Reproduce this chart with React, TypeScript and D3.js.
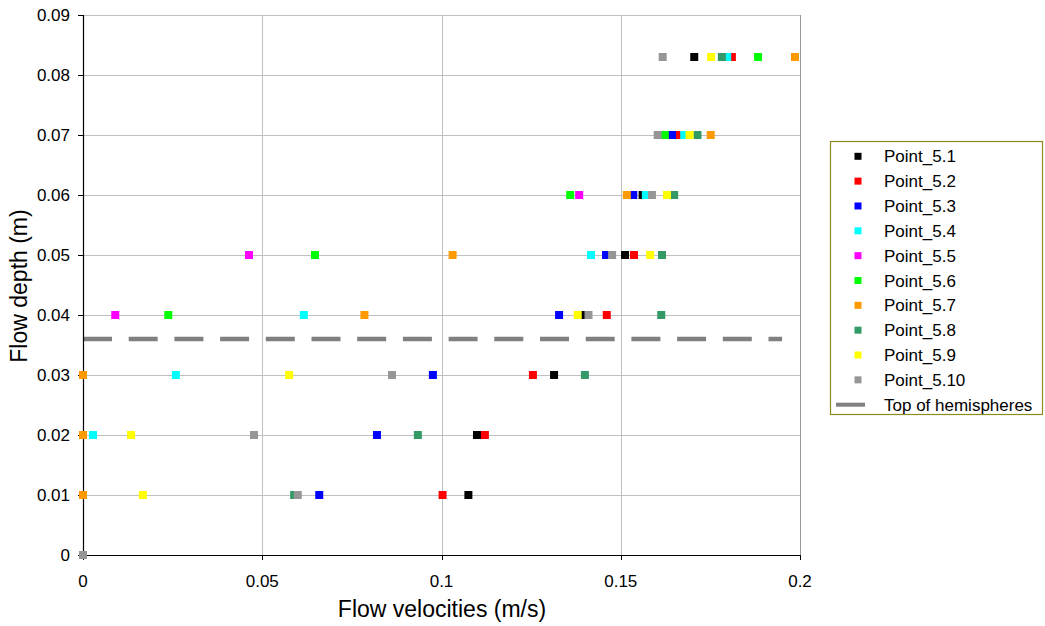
import React from "react";
import * as d3 from "d3";

const seriesNames = ["Point_5.1","Point_5.2","Point_5.3","Point_5.4","Point_5.5","Point_5.6","Point_5.7","Point_5.8","Point_5.9","Point_5.10"];
const seriesColors = ["#000000","#FF0000","#0000FF","#00FFFF","#FF00FF","#00FF00","#FF9900","#339966","#FFFF00","#969696"];

const p51v = [0, 0.1075, 0.1099, 0.1314, 0.1394, 0.1512, 0.1561, 0.1705];
const p51d = [0, 0.01, 0.02, 0.03, 0.04, 0.05, 0.06, 0.083];
const p52v = [0, 0.1003, 0.1121, 0.1255, 0.1461, 0.1537, 0.1663, 0.1810];
const p52d = [0, 0.01, 0.02, 0.03, 0.04, 0.05, 0.07, 0.083];
const p53v = [0, 0.0659, 0.0820, 0.0976, 0.1328, 0.1459, 0.1535, 0.1643];
const p53d = [0, 0.01, 0.02, 0.03, 0.04, 0.05, 0.06, 0.07];
const p54v = [0, 0.0028, 0.0259, 0.0616, 0.1417, 0.1570, 0.1677, 0.1797];
const p54d = [0, 0.02, 0.03, 0.04, 0.05, 0.06, 0.07, 0.083];
const p55v = [0, 0.0090, 0.0463, 0.1384];
const p55d = [0, 0.04, 0.05, 0.06];
const p56v = [0, 0.0238, 0.0647, 0.1359, 0.1623, 0.1883];
const p56d = [0, 0.04, 0.05, 0.06, 0.07, 0.083];
const p57v = [0, 0, 0, 0, 0.0785, 0.1031, 0.1517, 0.1751, 0.1986];
const p57d = [0, 0.01, 0.02, 0.03, 0.04, 0.05, 0.06, 0.07, 0.083];
const p58v = [0, 0.0589, 0.0934, 0.1400, 0.1613, 0.1615, 0.1649, 0.1714, 0.1782];
const p58d = [0, 0.01, 0.02, 0.03, 0.04, 0.05, 0.06, 0.07, 0.083];
const p59v = [0, 0.0167, 0.0134, 0.0575, 0.1380, 0.1582, 0.1629, 0.1692, 0.1752];
const p59d = [0, 0.01, 0.02, 0.03, 0.04, 0.05, 0.06, 0.07, 0.083];
const p510v = [0, 0.0599, 0.0477, 0.0862, 0.1410, 0.1476, 0.1587, 0.1603, 0.1617];
const p510d = [0, 0.01, 0.02, 0.03, 0.04, 0.05, 0.06, 0.07, 0.083];

const seriesVel = [p51v, p52v, p53v, p54v, p55v, p56v, p57v, p58v, p59v, p510v];
const seriesDepth = [p51d, p52d, p53d, p54d, p55d, p56d, p57d, p58d, p59d, p510d];

const hemisphereName = "Top of hemispheres";
const hemisphereVel = [0, 0.195];
const hemisphereDepth = [0.036, 0.036];

const xTicks = [0, 0.05, 0.1, 0.15, 0.2];
const yTicks = [0, 0.01, 0.02, 0.03, 0.04, 0.05, 0.06, 0.07, 0.08, 0.09];

export default function App() {
  const W = 1045, H = 626;
  const left = 83, right = 800, top = 15, bottom = 555;
  const x = d3.scaleLinear().domain([0, 0.2]).range([left, right]);
  const y = d3.scaleLinear().domain([0, 0.09]).range([bottom, top]);
  const font = "Arial, 'Liberation Sans', sans-serif";
  const ms = 8;
  const line = d3.line<number>().x((d, i) => x(hemisphereVel[i])).y((d, i) => y(hemisphereDepth[i]));

  const legX = 830, legY = 141, legW = 212, legH = 273;
  const rowY0 = 156.3, rowStep = 24.84;

  return (
    <svg width={W} height={H} style={{ position: "absolute", left: 0, top: 0, background: "#fff" }} fontFamily={font}>
      <rect x={0} y={0} width={W} height={H} fill="#fff" />
      {/* grid */}
      {yTicks.map((t) => (
        <line key={"gy" + t} x1={left} x2={right} y1={Math.round(y(t)) + 0.5} y2={Math.round(y(t)) + 0.5} stroke="#c0c0c0" strokeWidth={1} />
      ))}
      {xTicks.filter((t) => t > 0).map((t) => (
        <line key={"gx" + t} x1={Math.round(x(t)) + 0.5} x2={Math.round(x(t)) + 0.5} y1={top} y2={bottom} stroke={t === 0.2 ? "#999" : "#c0c0c0"} strokeWidth={1} />
      ))}
      {/* hemisphere line */}
      <path d={line(hemisphereVel) || ""} fill="none" stroke="#808080" strokeWidth={4.5} strokeDasharray="29,16.7" />
      {/* axes */}
      <line x1={left + 0.5} x2={left + 0.5} y1={top} y2={bottom} stroke="#000" strokeWidth={1.2} />
      <line x1={left} x2={right} y1={bottom + 0.5} y2={bottom + 0.5} stroke="#000" strokeWidth={1.2} />
      {yTicks.map((t) => (
        <g key={"yt" + t}>
          <line x1={left - 5} x2={left} y1={Math.round(y(t)) + 0.5} y2={Math.round(y(t)) + 0.5} stroke="#000" />
          <text x={70} y={y(t)} dy="0.36em" textAnchor="end" fontSize={17} fill="#000">{d3.format("")(t)}</text>
        </g>
      ))}
      {xTicks.map((t) => (
        <g key={"xt" + t}>
          <line x1={Math.round(x(t)) + 0.5} x2={Math.round(x(t)) + 0.5} y1={bottom} y2={bottom + 5} stroke="#000" />
          <text x={x(t)} y={587} textAnchor="middle" fontSize={17} fill="#000">{d3.format("")(t)}</text>
        </g>
      ))}
      {/* points */}
      {seriesVel.map((vs, si) => (
        <g key={"s" + si}>
          {vs.map((v, i) => (
            <rect key={i} x={x(v) - ms / 2} y={y(seriesDepth[si][i]) - ms / 2} width={ms} height={ms} fill={seriesColors[si]} />
          ))}
        </g>
      ))}
      {/* axis titles */}
      <text x={442} y={617} textAnchor="middle" fontSize={23} fill="#000">Flow velocities (m/s)</text>
      <text transform={`translate(27,${286}) rotate(-90)`} textAnchor="middle" fontSize={23} fill="#000">Flow depth (m)</text>
      {/* legend */}
      <rect x={legX + 0.5} y={legY + 0.5} width={legW} height={legH} fill="#fff" stroke="#8c8c1e" strokeWidth={1.2} />
      {seriesNames.map((n, i) => (
        <g key={"l" + i}>
          <rect x={858 - 3.5} y={rowY0 + i * rowStep - 3.5} width={7} height={7} fill={seriesColors[i]} />
          <text x={884} y={rowY0 + i * rowStep} dy="0.36em" fontSize={17} fill="#000">{n}</text>
        </g>
      ))}
      <line x1={836} x2={865} y1={rowY0 + 10 * rowStep} y2={rowY0 + 10 * rowStep} stroke="#808080" strokeWidth={4} />
      <text x={884} y={rowY0 + 10 * rowStep} dy="0.36em" fontSize={17} fill="#000">{hemisphereName}</text>
    </svg>
  );
}
